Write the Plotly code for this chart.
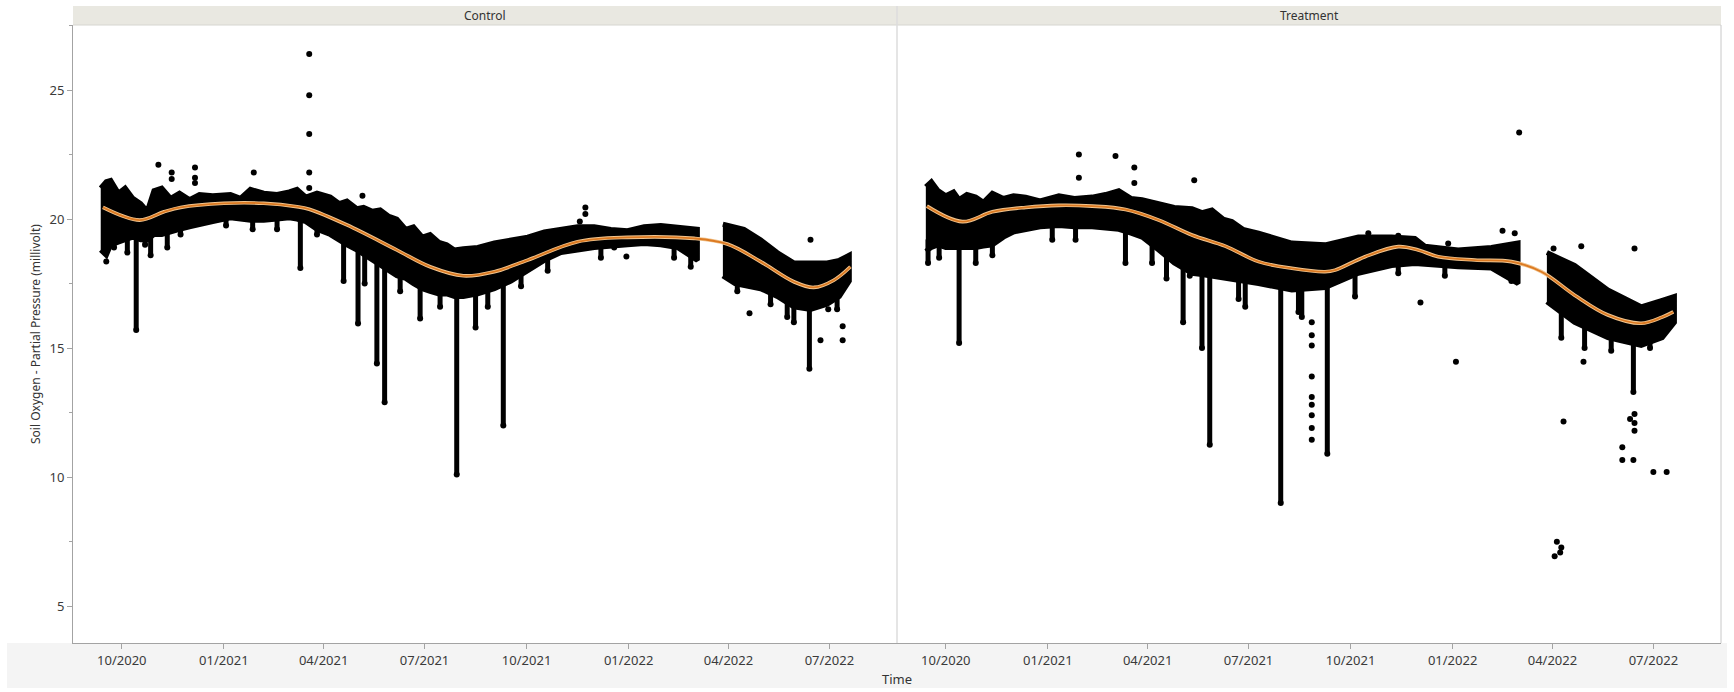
import numpy as np
import pandas as pd
import plotly.graph_objects as go

# ---------------- data ----------------
tick_dates = ["2020-10-01", "2021-01-01", "2021-04-01", "2021-07-01",
              "2021-10-01", "2022-01-01", "2022-04-01", "2022-07-01"]
y_ticks = [5, 10, 15, 20, 25]

# Control: dense band of readings (upper / lower edge), None = no data
ctrl_band_dates = ["2020-09-12", "2020-09-17", "2020-09-21", "2020-09-28", "2020-10-04",
                   "2020-10-11", "2020-10-18", "2020-10-24", "2020-10-30", "2020-11-06",
                   "2020-11-14", "2020-11-22", "2020-12-01", "2020-12-10", "2020-12-22",
                   "2021-01-07", "2021-01-16", "2021-01-25", "2021-02-06", "2021-02-18",
                   "2021-03-01", "2021-03-08", "2021-03-16", "2021-03-26", "2021-04-07",
                   "2021-04-15", "2021-04-22", "2021-05-01", "2021-05-07", "2021-05-15",
                   "2021-05-22", "2021-05-30", "2021-06-06", "2021-06-14", "2021-06-21",
                   "2021-06-29", "2021-07-06", "2021-07-14", "2021-07-21", "2021-07-28",
                   "2021-08-05", "2021-08-18", "2021-09-02", "2021-09-17", "2021-10-02",
                   "2021-10-17", "2021-11-01", "2021-11-16", "2021-12-01", "2021-12-16",
                   "2021-12-31", "2022-01-15", "2022-01-30", "2022-02-14", "2022-03-04",
                   "2022-03-15", "2022-03-27", "2022-04-07", "2022-04-15", "2022-04-30",
                   "2022-05-15", "2022-05-30", "2022-06-14", "2022-06-29", "2022-07-10",
                   "2022-07-19"]
ctrl_band_upper = [21.2, 21.45, 21.5, 21.0, 21.2,
                   20.8, 20.6, 20.3, 21.1, 21.2,
                   20.8, 21.0, 20.75, 20.95, 20.9,
                   20.95, 20.8, 21.15, 21.0, 20.95,
                   21.05, 21.15, 20.85, 21.0, 20.85,
                   20.6, 20.7, 20.4, 20.45, 20.3,
                   20.35, 20.1, 20.0, 19.6, 19.7,
                   19.3, 19.4, 19.1, 19.0, 18.8,
                   18.85, 18.9, 19.07, 19.2, 19.3,
                   19.5, 19.6, 19.7, 19.7, 19.6,
                   19.55, 19.7, 19.75, 19.7, 19.6,
                   None, 19.8, 19.7, 19.6, 19.2,
                   18.7, 18.3, 18.3, 18.3, 18.4,
                   18.6]
ctrl_band_lower = [18.8, 18.6, 19.0, 19.1, 19.2,
                   19.3, 19.2, 19.2, 19.4, 19.4,
                   19.5, 19.6, 19.7, 19.8, 19.9,
                   20.05, 20.0, 19.95, 19.95, 20.0,
                   20.05, 20.0, 19.9, 19.6, 19.4,
                   19.2, 19.0, 18.8, 18.6, 18.4,
                   18.2, 18.0, 17.8, 17.7, 17.5,
                   17.3, 17.2, 17.1, 17.1, 17.0,
                   17.0, 17.1, 17.3, 17.6, 18.0,
                   18.4, 18.7, 18.8, 18.9, 18.95,
                   19.0, 19.05, 19.0, 18.9, 18.4,
                   None, 17.8, 17.5, 17.4, 17.3,
                   17.0, 16.6, 16.5, 16.7, 17.0,
                   17.6]
ctrl_spike_dates = ["2020-09-24", "2020-10-06", "2020-10-14", "2020-10-22", "2020-10-27",
                    "2020-11-11", "2020-11-23", "2021-01-03", "2021-01-27", "2021-02-18",
                    "2021-03-11", "2021-03-26", "2021-04-19", "2021-05-02", "2021-05-08",
                    "2021-05-19", "2021-05-26", "2021-06-09", "2021-06-27", "2021-07-15",
                    "2021-07-30", "2021-08-16", "2021-08-27", "2021-09-10", "2021-09-26",
                    "2021-10-20", "2021-12-07", "2022-02-11", "2022-02-26", "2022-04-09",
                    "2022-05-09", "2022-05-24", "2022-05-30", "2022-06-13", "2022-07-08"]
ctrl_spike_min = [18.9, 18.7, 15.7, 19.0, 18.6,
                  18.9, 19.4, 19.75, 19.6, 19.6,
                  18.1, 19.4, 17.6, 15.95, 17.5,
                  14.4, 12.9, 17.2, 16.15, 16.6,
                  10.1, 15.8, 16.6, 12.0, 17.4,
                  18.0, 18.5, 18.5, 18.15, 17.2,
                  16.7, 16.2, 16.0, 14.2, 16.5]
ctrl_pt_dates = ["2020-09-17", "2020-11-03", "2020-11-15", "2020-11-15", "2020-12-06",
                 "2020-12-06", "2020-12-06", "2021-01-28", "2021-03-19", "2021-03-19",
                 "2021-03-19", "2021-03-19", "2021-03-19", "2021-05-06", "2021-11-18",
                 "2021-11-23", "2021-11-23", "2021-12-19", "2021-12-30", "2022-04-20",
                 "2022-06-14", "2022-06-23", "2022-06-30", "2022-07-13", "2022-07-13"]
ctrl_pt_vals = [18.35, 22.1, 21.8, 21.55, 22.0,
                21.6, 21.4, 21.8, 21.8, 26.4,
                24.8, 23.3, 21.2, 20.9, 19.9,
                20.45, 20.2, 18.9, 18.55, 16.35,
                19.2, 15.3, 16.5, 15.85, 15.3]
ctrl_fit_dates = ["2020-09-14", "2020-10-17", "2020-11-08", "2020-11-23", "2021-01-01",
                  "2021-02-06", "2021-03-08", "2021-03-19", "2021-04-22", "2021-06-06",
                  "2021-07-06", "2021-08-05", "2021-09-02", "2021-10-02", "2021-11-16",
                  "2021-12-31", "2022-03-01", "2022-03-31", "2022-04-30", "2022-05-30",
                  "2022-06-17", "2022-07-05", "2022-07-20"]
ctrl_fit_vals = [20.45, 19.96, 20.28, 20.45, 20.61,
                 20.61, 20.48, 20.38, 19.77, 18.80,
                 18.15, 17.80, 17.96, 18.41, 19.12,
                 19.29, 19.25, 19.03, 18.35, 17.57,
                 17.35, 17.63, 18.15]

# Treatment
trt_band_dates = ["2020-09-13", "2020-09-18", "2020-09-24", "2020-10-01", "2020-10-08",
                  "2020-10-13", "2020-10-20", "2020-10-28", "2020-11-04", "2020-11-12",
                  "2020-11-22", "2020-12-01", "2020-12-12", "2020-12-25", "2021-01-11",
                  "2021-01-25", "2021-02-10", "2021-02-22", "2021-03-06", "2021-03-17",
                  "2021-03-27", "2021-04-11", "2021-04-25", "2021-05-11", "2021-05-20",
                  "2021-05-29", "2021-06-08", "2021-06-16", "2021-06-26", "2021-07-10",
                  "2021-08-09", "2021-09-08", "2021-10-08", "2021-11-07", "2021-11-28",
                  "2021-12-07", "2022-01-06", "2022-02-05", "2022-03-01", "2022-03-14",
                  "2022-03-27", "2022-04-21", "2022-05-21", "2022-06-20", "2022-07-09",
                  "2022-07-20"]
trt_band_upper = [21.25, 21.45, 21.1, 20.9, 21.05,
                  20.75, 20.95, 20.85, 20.65, 21.0,
                  20.8, 20.9, 20.85, 20.7, 20.9,
                  20.8, 20.85, 20.95, 21.1, 20.8,
                  20.75, 20.6, 20.45, 20.4, 20.25,
                  20.35, 20.0, 19.9, 19.6, 19.45,
                  19.07, 19.0, 19.3, 19.3, 19.25,
                  18.95, 18.8, 18.9, 19.07, None,
                  18.7, 18.2, 17.25, 16.6, 16.85,
                  17.0]
trt_band_lower = [18.75, 18.9, 19.0, 18.9, 18.9,
                  18.9, 18.9, 18.9, 18.95, 19.0,
                  19.3, 19.5, 19.6, 19.7, 19.75,
                  19.7, 19.7, 19.65, 19.6, 19.45,
                  19.3, 18.8, 18.3, 17.9, 17.85,
                  17.8, 17.75, 17.7, 17.6, 17.5,
                  17.25, 17.35, 17.9, 18.2, 18.28,
                  18.25, 18.15, 18.1, 17.5, None,
                  16.8, 16.0, 15.4, 15.1, 15.4,
                  16.0]
trt_spike_dates = ["2020-09-15", "2020-09-25", "2020-10-13", "2020-10-28", "2020-11-12",
                   "2021-01-05", "2021-01-26", "2021-03-12", "2021-04-05", "2021-04-18",
                   "2021-05-03", "2021-05-09", "2021-05-20", "2021-05-27", "2021-06-22",
                   "2021-06-28", "2021-07-30", "2021-08-15", "2021-08-18", "2021-09-10",
                   "2021-10-05", "2021-11-13", "2021-12-25", "2022-02-23", "2022-04-09",
                   "2022-04-30", "2022-05-24", "2022-06-13", "2022-06-28"]
trt_spike_min = [18.3, 18.5, 15.2, 18.3, 18.6,
                 19.2, 19.2, 18.3, 18.3, 17.7,
                 16.0, 17.8, 15.0, 11.25, 16.9,
                 16.6, 9.0, 16.4, 16.2, 10.9,
                 17.0, 17.9, 17.8, 17.6, 15.4,
                 15.0, 14.9, 13.3, 15.0]
trt_pt_dates = ["2021-01-29", "2021-01-29", "2021-03-03", "2021-03-20", "2021-03-20",
                "2021-05-13", "2021-08-27", "2021-08-27", "2021-08-27", "2021-08-27",
                "2021-08-27", "2021-08-27", "2021-08-27", "2021-08-27", "2021-08-27",
                "2021-10-17", "2021-11-13", "2021-12-03", "2021-12-28", "2022-01-04",
                "2022-02-15", "2022-02-26", "2022-03-02", "2022-04-02", "2022-04-03",
                "2022-04-05", "2022-04-08", "2022-04-09", "2022-04-11", "2022-04-27",
                "2022-04-29", "2022-06-03", "2022-06-03", "2022-06-10", "2022-06-13",
                "2022-06-14", "2022-06-14", "2022-06-14", "2022-06-14", "2022-07-01",
                "2022-07-13"]
trt_pt_vals = [22.5, 21.6, 22.44, 22.0, 21.4,
               21.5, 16.0, 15.5, 15.1, 13.9,
               13.1, 12.8, 12.4, 11.9, 11.45,
               19.45, 19.35, 16.77, 19.05, 14.47,
               19.55, 19.45, 23.35, 18.86, 6.93,
               7.49, 7.08, 7.27, 12.15, 18.95,
               14.47, 11.16, 10.66, 12.25, 10.66,
               12.44, 12.1, 11.8, 18.86, 10.2,
               10.2]
trt_fit_dates = ["2020-09-14", "2020-10-16", "2020-11-12", "2020-12-12", "2021-01-11",
                 "2021-02-10", "2021-03-12", "2021-04-11", "2021-05-11", "2021-06-10",
                 "2021-07-10", "2021-08-09", "2021-09-08", "2021-09-17", "2021-10-14",
                 "2021-11-13", "2021-12-01", "2021-12-19", "2022-01-21", "2022-02-23",
                 "2022-03-22", "2022-04-21", "2022-05-21", "2022-06-20", "2022-07-09",
                 "2022-07-19"]
trt_fit_vals = [20.50, 19.90, 20.28, 20.45, 20.53,
                20.50, 20.37, 19.96, 19.38, 18.95,
                18.35, 18.09, 17.96, 18.02, 18.54,
                18.93, 18.80, 18.54, 18.41, 18.35,
                17.96, 17.05, 16.28, 15.96, 16.20,
                16.40]

panel_names = ["Control", "Treatment"]

# ---------------- figure ----------------
W, H = 1734, 692
ML, MR, MT, MB = 73, 13, 25, 49
plot_h = H - MT - MB
x_range = ["2020-08-18", "2022-08-31"]
y_range = [3.57, 27.52]

fig = go.Figure()
BLACK = "#000000"


def add_panel(xa, band_dates, up, lo, sp_dates, sp_min, pt_dates, pt_vals,
              fit_dates, fit_vals):
    # band polygons, split on gaps
    cur_d, cur_u, cur_l = [], [], []
    segs = []
    for d, u, l in zip(band_dates, up, lo):
        if u is None:
            if cur_d:
                segs.append((cur_d, cur_u, cur_l))
            cur_d, cur_u, cur_l = [], [], []
        else:
            cur_d.append(d); cur_u.append(u); cur_l.append(l)
    if cur_d:
        segs.append((cur_d, cur_u, cur_l))
    for d, u, l in segs:
        fig.add_trace(go.Scatter(
            x=d + d[::-1], y=u + l[::-1], xaxis=xa, yaxis="y",
            mode="lines", fill="toself", fillcolor=BLACK,
            line=dict(color=BLACK, width=5), hoverinfo="skip", showlegend=False))
    # spikes: columns of readings reaching down from the band
    bd = pd.to_datetime([d for d, u in zip(band_dates, up) if u is not None]).astype("int64")
    bl = np.array([l for l in lo if l is not None])
    sx, sy = [], []
    for d, m in zip(sp_dates, sp_min):
        top = float(np.interp(pd.Timestamp(d).value, bd, bl)) + 0.4
        sx += [d, d, None]
        sy += [m, top, None]
    fig.add_trace(go.Scatter(x=sx, y=sy, xaxis=xa, yaxis="y", mode="lines",
                             line=dict(color=BLACK, width=5),
                             hoverinfo="skip", showlegend=False))
    fig.add_trace(go.Scatter(x=sp_dates, y=sp_min, xaxis=xa, yaxis="y",
                             mode="markers", marker=dict(color=BLACK, size=6),
                             hoverinfo="skip", showlegend=False))
    # isolated readings
    fig.add_trace(go.Scatter(x=pt_dates, y=pt_vals, xaxis=xa, yaxis="y",
                             mode="markers", marker=dict(color=BLACK, size=6),
                             hoverinfo="skip", showlegend=False))
    # smoother
    fig.add_trace(go.Scatter(x=fit_dates, y=fit_vals, xaxis=xa, yaxis="y",
                             mode="lines", line=dict(color="#f1c48e", width=3.6, shape="spline"),
                             hoverinfo="skip", showlegend=False))
    fig.add_trace(go.Scatter(x=fit_dates, y=fit_vals, xaxis=xa, yaxis="y",
                             mode="lines", line=dict(color="#dc7a22", width=1.8, shape="spline"),
                             hoverinfo="skip", showlegend=False))


add_panel("x", ctrl_band_dates, ctrl_band_upper, ctrl_band_lower,
          ctrl_spike_dates, ctrl_spike_min, ctrl_pt_dates, ctrl_pt_vals,
          ctrl_fit_dates, ctrl_fit_vals)
add_panel("x2", trt_band_dates, trt_band_upper, trt_band_lower,
          trt_spike_dates, trt_spike_min, trt_pt_dates, trt_pt_vals,
          trt_fit_dates, trt_fit_vals)

AX = "#a3a3a3"
FONT = "Noto Sans"
xcommon = dict(type="date", range=x_range, tickvals=tick_dates, tickformat="%m/%Y",
               showgrid=False, zeroline=False, showline=True, linecolor=AX, linewidth=1,
               ticks="outside", ticklen=5, tickcolor=AX,
               tickfont=dict(family=FONT, size=13, color="#3a3a3a"), anchor="y",
               fixedrange=True)
fig.update_layout(
    width=W, height=H,
    margin=dict(l=ML, r=MR, t=MT, b=MB),
    paper_bgcolor="#ffffff", plot_bgcolor="#ffffff",
    showlegend=False,
    xaxis=dict(domain=[0, 0.5], **xcommon),
    xaxis2=dict(domain=[0.5, 1], **xcommon),
    yaxis=dict(range=y_range, tickvals=y_ticks, showgrid=False, zeroline=False,
               showline=True, linecolor=AX, linewidth=1, ticks="outside", ticklen=5,
               tickcolor=AX, tickfont=dict(family=FONT, size=13, color="#3a3a3a"),
               minor=dict(dtick=2.5, tick0=0, ticks="outside", ticklen=3, tickcolor=AX),
               anchor="x", fixedrange=True),
)

strip_h = 19 / plot_h
shapes = [
    dict(type="rect", xref="paper", yref="paper", x0=-66 / 1648, x1=1 + 6 / 1648,
         y0=-(MB - 4) / plot_h, y1=0, fillcolor="#f4f4f4", line=dict(width=0), layer="below"),
    dict(type="rect", xref="paper", yref="paper", x0=0, x1=1, y0=1, y1=1 + strip_h,
         fillcolor="#e9e8e1", line=dict(width=0)),
    dict(type="line", xref="paper", yref="paper", x0=0, x1=1, y0=1, y1=1,
         line=dict(color="#d6d6d0", width=1)),
    dict(type="line", xref="paper", yref="paper", x0=0.5, x1=0.5, y0=0, y1=1 + strip_h,
         line=dict(color="#dcdcdc", width=1.5)),
    dict(type="line", xref="paper", yref="paper", x0=1, x1=1, y0=0, y1=1,
         line=dict(color="#c8c8c8", width=1)),
]
fig.update_layout(shapes=shapes)

ann = []
for i, name in enumerate(panel_names):
    ann.append(dict(text=name, xref="paper", yref="paper", x=0.25 + 0.5 * i,
                    y=1 + strip_h / 2, xanchor="center", yanchor="middle", showarrow=False,
                    font=dict(family=FONT, size=12, color="#333333")))
ann.append(dict(text="Time", xref="paper", yref="paper", x=0.5, y=-36 / plot_h,
                xanchor="center", yanchor="middle", showarrow=False,
                font=dict(family=FONT, size=13, color="#333333")))
ann.append(dict(text="Soil Oxygen - Partial Pressure (millivolt)", xref="paper",
                yref="paper", x=-38 / 1648, y=0.5, textangle=-90, xanchor="center",
                yanchor="middle", showarrow=False,
                font=dict(family=FONT, size=12, color="#333333")))
fig.update_layout(annotations=ann)

fig.write_html("out.html")
